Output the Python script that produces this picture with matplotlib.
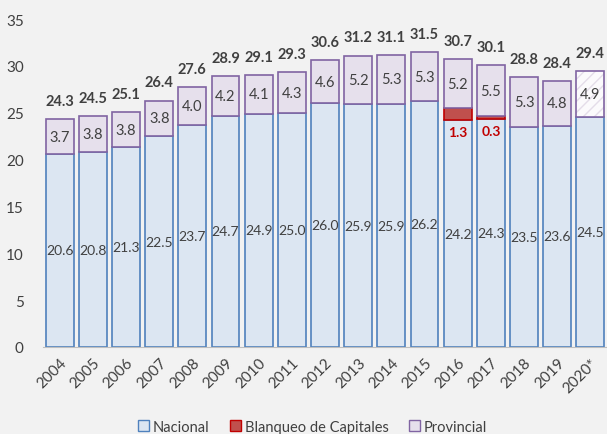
import matplotlib.pyplot as plt
import numpy as np
from matplotlib.patches import Patch

years = ['2004', '2005', '2006', '2007', '2008', '2009', '2010', '2011', '2012',
         '2013', '2014', '2015', '2016', '2017', '2018', '2019', '2020*']
nacional = [20.6, 20.8, 21.3, 22.5, 23.7, 24.7, 24.9, 25.0, 26.0,
            25.9, 25.9, 26.2, 24.2, 24.3, 23.5, 23.6, 24.5]
blanqueo = [0, 0, 0, 0, 0, 0, 0, 0, 0, 0, 0, 0, 1.3, 0.3, 0, 0, 0]
provincial = [3.7, 3.8, 3.8, 3.8, 4.0, 4.2, 4.1, 4.3, 4.6,
              5.2, 5.3, 5.3, 5.2, 5.5, 5.3, 4.8, 4.9]
totales = [24.3, 24.5, 25.1, 26.4, 27.6, 28.9, 29.1, 29.3, 30.6,
           31.2, 31.1, 31.5, 30.7, 30.1, 28.8, 28.4, 29.4]

plt.rcParams['font.family'] = ['Lato', 'DejaVu Sans']
plt.rcParams['hatch.linewidth'] = 1.0

bg = '#f2f2f2'
c_nac, e_nac = '#dce6f2', '#4f81bd'
c_bla, e_bla = '#c0504d', '#c00000'
c_pro, e_pro = '#e6e0ec', '#8064a2'
txt = '#404040'

fig = plt.figure(figsize=(6.07, 4.35), dpi=100, facecolor=bg)
ax = fig.add_axes([0.071, 0.2, 0.929, 0.754], facecolor=bg)

x = np.arange(len(years))
w = 0.84
nac = np.array(nacional)
bla = np.array(blanqueo)
pro = np.array(provincial)

ax.bar(x, nac, w, color=c_nac, edgecolor=e_nac, linewidth=1.2)
# blanqueo solo donde hay
for i in range(len(x)):
    if bla[i] > 0:
        ax.bar(x[i], bla[i], w, bottom=nac[i], color=c_bla, edgecolor=e_bla, linewidth=1.2)

base = nac + bla
for i in range(len(x)):
    if years[i] == '2020*':
        ax.bar(x[i], pro[i], w, bottom=base[i], color='#fbfafc', edgecolor='#e4dde9',
               hatch='///', linewidth=0)
        ax.bar(x[i], pro[i], w, bottom=base[i], fill=False, edgecolor=e_pro, linewidth=1.2)
    else:
        ax.bar(x[i], pro[i], w, bottom=base[i], color=c_pro, edgecolor=e_pro, linewidth=1.2)

# etiquetas
for i in range(len(x)):
    ax.text(x[i], nac[i] / 2, f'{nac[i]:.1f}', ha='center', va='center', fontsize=10, color=txt)
    ax.text(x[i], base[i] + pro[i] / 2, f'{pro[i]:.1f}', ha='center', va='center',
            fontsize=10.5, color=txt)
    ax.annotate(f'{totales[i]:.1f}', (x[i], base[i] + pro[i]), xytext=(0, 8),
                textcoords='offset points', ha='center', va='bottom',
                fontsize=10.5, fontweight='bold', color=txt)
    if bla[i] > 0:
        ax.annotate(f'{bla[i]:.1f}', (x[i], nac[i]), xytext=(0, -4),
                    textcoords='offset points', ha='center', va='top',
                    fontsize=10, fontweight='bold', color=e_bla)

ax.set_xlim(-0.5, len(x) - 0.5)
ax.set_ylim(0, 35)
ax.set_yticks(range(0, 36, 5))
ax.set_xticks(x)
ax.set_xticklabels(years, rotation=45, ha='right', rotation_mode='anchor')
ax.tick_params(axis='both', length=0, labelsize=11, colors=txt)
ax.tick_params(axis='x', pad=6)
ax.tick_params(axis='y', pad=14)
for s in ['top', 'right', 'left']:
    ax.spines[s].set_visible(False)
ax.spines['bottom'].set_color('#bfbfbf')

handles = [Patch(facecolor=c_nac, edgecolor=e_nac, label='Nacional'),
           Patch(facecolor=c_bla, edgecolor=e_bla, label='Blanqueo de Capitales'),
           Patch(facecolor=c_pro, edgecolor=e_pro, label='Provincial')]
fig.legend(handles=handles, loc='lower center', bbox_to_anchor=(0.515, -0.03), ncol=3,
           frameon=False, fontsize=10.5, handlelength=0.75, handleheight=0.75,
           handletextpad=0.25, columnspacing=1.4, labelcolor=txt)

fig.savefig('out.png', dpi=100, facecolor=bg)
